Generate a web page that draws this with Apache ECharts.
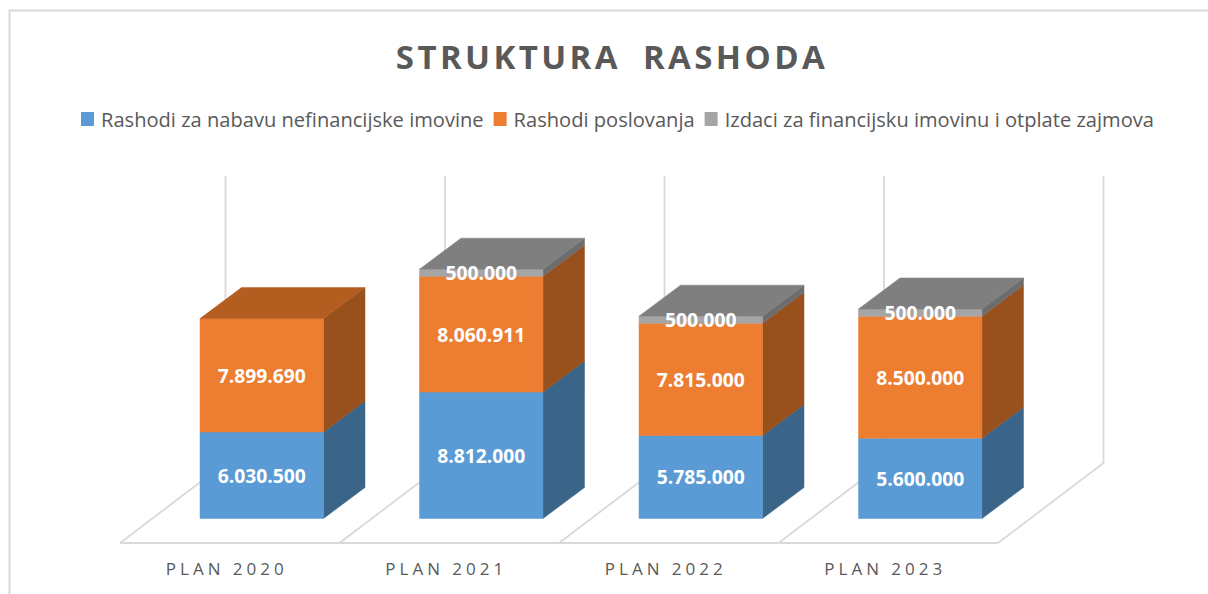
<!DOCTYPE html>
<html><head><meta charset="utf-8">
<style>
html,body{margin:0;padding:0;background:#fff}
#c{width:1208px;height:594px}
#c svg text[style*="33px"]{letter-spacing:3.4px;word-spacing:10px}
#c svg text[style*="17px"]{letter-spacing:4px}
</style>
<script src="https://cdn.jsdelivr.net/npm/echarts@6/dist/echarts.min.js"></script>
</head><body><div id="c"></div>
<script>
const categories = ['PLAN 2020','PLAN 2021','PLAN 2022','PLAN 2023'];
const nefinancijska = [6030500, 8812000, 5785000, 5600000];
const poslovanje = [7899690, 8060911, 7815000, 8500000];
const financijska = [null, 500000, 500000, 500000];
const seriesNames = ['Rashodi za nabavu nefinancijske imovine','Rashodi poslovanja','Izdaci za financijsku imovinu i otplate zajmova'];
const tickMax = 20000000;

const fmt = v => String(v).replace(/\B(?=(\d{3})+$)/g, '.');
const stacks = [nefinancijska, poslovanje, financijska];
const faces = [
  {front:'#5B9BD5', side:'#3A6488', top:'#3F6C94'},
  {front:'#ED7D31', side:'#98501C', top:'#B35D21'},
  {front:'#A5A5A5', side:'#6D6D6D', top:'#7F7F7F'}
];
const depth = [41.5, -31];
const floorFront = [-32, 24.5];
const floorBack = [73.5, -55.5];
const barRatio = 0.5625;
const lineStyle = {stroke:'#D9D9D9', lineWidth:1.8, fill:null};

function base(i, s){ let b = 0; for(let k=0;k<s;k++) b += stacks[k][i] || 0; return b; }
function topmost(i, s){ for(let k=s+1;k<stacks.length;k++) if(stacks[k][i]) return false; return true; }
function poly(points, fill){ return {type:'polygon', shape:{points}, style:{fill, stroke:fill, lineWidth:0.5}}; }

function renderSeg(s){
  return function(params, api){
    const i = params.dataIndex, v = stacks[s][i];
    if(!v) return null;
    const b = base(i, s);
    const w = api.size([1,0])[0] * barRatio;
    const p0 = api.coord([i, b]), p1 = api.coord([i, b + v]);
    const x0 = p0[0] - w/2, x1 = p0[0] + w/2, y0 = p0[1], y1 = p1[1];
    const dx = depth[0], dy = depth[1];
    const f = faces[s];
    const children = [
      poly([[x1,y0],[x1+dx,y0+dy],[x1+dx,y1+dy],[x1,y1]], f.side),
      poly([[x0,y0],[x1,y0],[x1,y1],[x0,y1]], f.front)
    ];
    if(topmost(i, s)) children.push(poly([[x0,y1],[x1,y1],[x1+dx,y1+dy],[x0+dx,y1+dy]], f.top));
    children.push({type:'text', x:p0[0], y:(y0+y1)/2, style:{text:fmt(v), fill:'#fff', font:'bold 19.3px "Open Sans"', align:'center', verticalAlign:'middle'}, z2:10});
    return {type:'group', children};
  };
}
function renderGrid(params, api){
  const i = params.dataIndex, band = api.size([1,0])[0];
  const c0 = api.coord([i,0]), top = api.coord([i,tickMax]);
  const line = (x1,y1,x2,y2)=>({type:'line', shape:{x1,y1,x2,y2}, style:lineStyle});
  const edge = (x)=>[
    line(x+floorFront[0], c0[1]+floorFront[1], x+floorBack[0], c0[1]+floorBack[1]),
    line(x+floorBack[0], c0[1]+floorBack[1], x+floorBack[0], top[1]+floorBack[1])
  ];
  const xl = c0[0]-band/2, xr = c0[0]+band/2;
  let ch = edge(xl).concat([line(xl+floorFront[0], c0[1]+floorFront[1], xr+floorFront[0], c0[1]+floorFront[1])]);
  if(i === categories.length-1) ch = ch.concat(edge(xr));
  return {type:'group', children:ch};
}

const chart = echarts.init(document.getElementById('c'), null, {renderer:'svg'});
chart.setOption({
  animation:false,
  backgroundColor:'#fff',
  title:{text:'STRUKTURA RASHODA', left:607, top:35, textAlign:'center',
    textStyle:{fontFamily:'Open Sans', fontWeight:'bold', fontSize:33, color:'#595959'}},
  legend:{data:seriesNames, left:81, top:109, padding:0, icon:'rect', itemWidth:13, itemHeight:14, itemGap:10,
    textStyle:{fontFamily:'Open Sans', fontSize:20.1, color:'#595959', padding:[0,0,0,2]}},
  grid:{left:152, width:878, top:231.5, height:287},
  xAxis:{type:'category', data:categories, axisLine:{show:false}, axisTick:{show:false},
    axisLabel:{fontFamily:'Open Sans', fontSize:17, color:'#595959', margin:41, padding:[0,70,0,0]}},
  yAxis:{type:'value', min:0, max:tickMax, show:false, splitLine:{show:false}},
  graphic:[{type:'polyline', shape:{points:[[9.5,594],[9.5,10.5],[1208,10.5]]}, style:{stroke:'#D9D9D9', lineWidth:2, fill:null}}],
  series:[
    {type:'custom', silent:true, clip:false, data:categories.map((_,i)=>[i,0]), encode:{x:0,y:1}, renderItem:renderGrid, z:1},
    ...stacks.map((vals,s)=>({name:seriesNames[s], type:'custom', clip:false, itemStyle:{color:faces[s].front}, z:2+s,
      data:vals.map((v,i)=>[i, v==null?0:base(i,s)+v]), encode:{x:0,y:1}, renderItem:renderSeg(s)}))
  ]
});
</script></body></html>
